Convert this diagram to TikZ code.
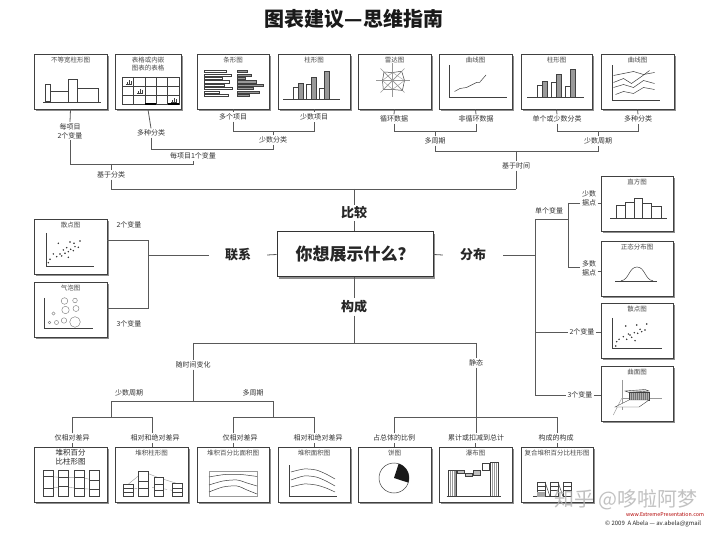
\documentclass[tikz,border=0pt]{standalone}
\usepackage{fontspec}
\setmainfont{Noto Sans CJK SC}
\usetikzlibrary{shadows}
\newcommand\mkbox[5]{%
  \node[chartbox, minimum width=#4pt] (#1) at (#2,#3) {};
  \node[ctitle] (#1t) at (#1.north) {#5};}
\begin{document}
\begin{tikzpicture}[x=1pt,y=-1pt,
  chartbox/.style={draw=black!75, line width=0.9pt, fill=white, minimum height=55pt, inner sep=0pt,
     drop shadow={shadow xshift=1.6pt, shadow yshift=-1.6pt, fill=black!55, opacity=0.8}},
  ctitle/.style={below, font=\fontsize{6.5}{8.5}\selectfont, text=black!70, inner xsep=2pt, inner ysep=3pt, align=center},
  lab/.style={font=\fontsize{7}{9}\selectfont, text=black!80, inner sep=1.2pt, align=center},
  con/.style={draw=black!65, line width=0.8pt},
  mini/.style={draw=black!75, line width=0.5pt},
  faint/.style={draw=black!40, line width=0.4pt},
  big/.style={font=\bfseries\fontsize{13}{15}\selectfont, text=black!85, inner sep=2pt},
  sdot/.style={fill=black!85},
]
\useasboundingbox (0,0) rectangle (720,534);
\fill[white] (0,0) rectangle (720,534);

% title
\node[font=\bfseries\fontsize{20}{22}\selectfont, text=black!90] (title) at (354,19) {图表建议—思维指南};

% ---------------- top row boxes
\mkbox{t1}{70.5}{81.5}{73}{不等宽柱形图}
\mkbox{t2}{148}{81.5}{66}{表格或内嵌\\图表的表格}
\mkbox{t3}{233}{81.5}{72}{条形图}
\mkbox{t4}{314}{81.5}{72}{柱形图}
\mkbox{t5}{394.5}{81.5}{73}{雷达图}
\mkbox{t6}{475.5}{81.5}{73}{曲线图}
\mkbox{t7}{556.5}{81.5}{71}{柱形图}
\mkbox{t8}{637.5}{81.5}{73}{曲线图}

% t1 variable width column
\begin{scope}[shift={(t1.center)}]
  \draw[mini] (-27.5,20.5) -- (30.5,20.5);
  \draw[mini, line width=1pt] (-25.5,20.5) rectangle (-20.5,3.5);
  \draw[mini] (-20.5,20.5) rectangle (-2.5,9.5);
  \draw[mini] (-2.5,20.5) rectangle (6.5,-2.5);
  \draw[mini] (6.5,20.5) rectangle (27.5,6.5);
\end{scope}
% t2 table
\begin{scope}[shift={(t2.center)}]
  \draw[mini] (-26,-4.5) rectangle (31,22.5);
  \foreach \i in {1,...,4} \draw[mini] (-26+11.4*\i,-4.5) -- (-26+11.4*\i,22.5);
  \draw[mini] (-26,4.5) -- (31,4.5);
  \draw[mini] (-26,13.5) -- (31,13.5);
  \draw[black, line width=1.2pt] (-3.2,22.5) -- (8.2,22.5);
  \draw[black, line width=1.2pt] (19.6,22.5) -- (31,22.5);
  \foreach \cx/\cy in {-22/2.5, -11/11.5, 23/20.5} {
    \draw[mini, line width=0.4pt] (\cx,\cy) -- (\cx+6,\cy);
    \draw[mini, line width=0.4pt] (\cx+1,\cy) -- (\cx+1,\cy-1.5);
    \draw[mini, line width=0.4pt] (\cx+3,\cy) -- (\cx+3,\cy-3.5);
    \draw[mini, line width=0.4pt] (\cx+5,\cy) -- (\cx+5,\cy-2.5);
  }
\end{scope}
% t3 bar chart
\begin{scope}[shift={(t3.center)}]
  \foreach \l [count=\i] in {22,27,18,25,20,28,15,24}
    \draw[mini, fill=white] (-29,-14.5+3.4*\i) rectangle ++(\l,2.2);
  \foreach \l [count=\i] in {10,14,8,19,26,16,22,12}
    \draw[mini, fill=black!40] (4,-14.5+3.4*\i) rectangle ++(\l,2.2);
\end{scope}
% t4 column chart
\begin{scope}[shift={(t4.center)}]
  \draw[mini] (-31,17.5) -- (26,17.5);
  \draw[mini, fill=white] (-21,17.5) rectangle (-16,5.5);
  \draw[mini, fill=black!40] (-16,17.5) rectangle (-11,1.5);
  \draw[mini, fill=white] (-8,17.5) rectangle (-3,2.5);
  \draw[mini, fill=black!40] (-3,17.5) rectangle (2,-4.5);
  \draw[mini, fill=white] (5,17.5) rectangle (10,6.5);
  \draw[mini, fill=black!40] (10,17.5) rectangle (15,-10.5);
\end{scope}
% t5 radar
\begin{scope}[shift={(t5.center)}, shift={(-2,-1)}]
  \foreach \a in {0,45,...,315} \draw[faint] (0,0) -- (\a:17);
  \draw[mini] (0:12) -- (45:14) -- (90:9) -- (135:13) -- (180:10) -- (225:12) -- (270:8) -- (315:13) -- cycle;
  \draw[faint] (45:14) -- (225:12);
  \draw[faint] (135:13) -- (315:13);
  \draw[faint] (0:12) -- (90:9) -- (180:10) -- (270:8) -- cycle;
\end{scope}
% t6 line chart
\begin{scope}[shift={(t6.center)}]
  \draw[mini] (-26.5,-16.5) -- (-26.5,15.5) -- (31.5,15.5);
  \draw[mini] (-21,10) -- (-15.5,7) -- (-9,6) -- (-3,3) -- (1,1) -- (4,1) -- (10.5,-6.5);
\end{scope}
% t7 column chart
\begin{scope}[shift={(t7.center)}]
  \draw[mini] (-29.5,15.5) -- (27.5,15.5);
  \draw[mini, fill=white] (-19,15.5) rectangle (-14,3.5);
  \draw[mini, fill=black!40] (-14,15.5) rectangle (-9,-0.5);
  \draw[mini, fill=white] (-5,15.5) rectangle (0,1.2);
  \draw[mini, fill=black!40] (0,15.5) rectangle (5,-7.5);
  \draw[mini, fill=white] (9,15.5) rectangle (14,5.2);
  \draw[mini, fill=black!40] (14,15.5) rectangle (19,-12.5);
\end{scope}
% t8 multiple lines
\begin{scope}[shift={(t8.center)}]
  \draw[mini] (-25.5,-16) -- (-25.5,18.5) -- (22.5,18.5);
  \draw[mini] (-24,-6) -- (-14,-8) -- (-4,-10) -- (6,-7) -- (17,-9);
  \draw[mini] (-24,1) -- (-14,-3) -- (-6,2) -- (4,-5) -- (12,-11);
  \draw[mini] (-24,6) -- (-14,3) -- (-4,6) -- (6,-1) -- (17,2);
  \draw[mini] (-22,13) -- (-14,10) -- (-4,12) -- (6,6) -- (17,8);
\end{scope}

% ---------------- top labels
\node[lab] (l1) at (70,131) {每项目\\2个变量};
\node[lab] (l2) at (151,133) {多种分类};
\node[lab] (l3) at (233,117) {多个项目};
\node[lab] (l4) at (314,117) {少数项目};
\node[lab] (l34) at (273,140) {少数分类};
\node[lab] (l234) at (193,156) {每项目1个变量};
\node[lab] (lcat) at (111,175) {基于分类};
\node[lab] (l5) at (394,119) {循环数据};
\node[lab] (l6) at (476,119) {非循环数据};
\node[lab] (l56) at (435,141) {多周期};
\node[lab] (l7) at (557,119) {单个或少数分类};
\node[lab] (l8) at (638,119) {多种分类};
\node[lab] (l78) at (598,141) {少数周期};
\node[lab] (ltime) at (516,166) {基于时间};

\coordinate (j3) at (233,131); \coordinate (j4) at (314,131);
\coordinate (j2) at (151,149); \coordinate (j34) at (273,149);
\coordinate (j1) at (70,164); \coordinate (j234) at (193,164);
\coordinate (jc) at (111,164); \coordinate (jcb) at (111,189);
\coordinate (j5) at (394,131); \coordinate (j6) at (476,131);
\coordinate (j56) at (435,151); \coordinate (j78) at (598,151);
\coordinate (j7) at (557,131); \coordinate (j8) at (638,131);
\coordinate (jt) at (516,151); \coordinate (jtb) at (516,189);

\draw[con] (t1.south) -- (l1.north);
\draw[con] (l1.south) -- (j1) -- (j234) -- (l234.south);
\draw[con] (t2.south) -- (l2.north);
\draw[con] (l2.south) -- (j2) -- (j34) -- (l34.south);
\draw[con] (t3.south) -- (l3.north);
\draw[con] (t4.south) -- (l4.north);
\draw[con] (l3.south) -- (j3) -- (j4) -- (l4.south);
\draw[con] (l34.north) -- (l34.north |- j3);
\draw[con] (jc) -- (lcat.north);
\draw[con] (lcat.south) -- (jcb);
\draw[con] (t5.south) -- (l5.north);
\draw[con] (t6.south) -- (l6.north);
\draw[con] (l5.south) -- (j5) -- (j6) -- (l6.south);
\draw[con] (l56.north) -- (l56.north |- j5);
\draw[con] (t7.south) -- (l7.north);
\draw[con] (t8.south) -- (l8.north);
\draw[con] (l7.south) -- (j7) -- (j8) -- (l8.south);
\draw[con] (l78.north) -- (l78.north |- j7);
\draw[con] (l56.south) -- (j56) -- (j78) -- (l78.south);
\draw[con] (jt) -- (ltime.north);
\draw[con] (ltime.south) -- (jtb);

% ---------------- centre
\node[draw=black!80, line width=1pt, fill=white, minimum width=156pt, minimum height=45pt,
  drop shadow={shadow xshift=1.6pt, shadow yshift=-1.6pt, fill=black!55, opacity=0.8},
  font=\bfseries\fontsize{17}{19}\selectfont, text=black!85] (main) at (355,254.5) {你想展示什么？};
\node[big] (cmp) at (354,213) {比较};
\node[big] (comp) at (354,307) {构成};
\node[big, inner xsep=16pt] (rel) at (238,255) {联系};
\node[big, inner xsep=17pt] (dist) at (473,255) {分布};

\draw[con] (jcb) -- (jtb);
\draw[con] (cmp.north |- jcb) -- (cmp.north);
\draw[con] (cmp.south) -- (cmp.south |- main.north);
\draw[con] (main.west) -- (rel.east);
\draw[con] (main.east) -- (dist.west);
\draw[con] (comp.north |- main.south) -- (comp.north);

% ---------------- left (relationship)
\mkbox{sc}{70.5}{246.5}{73}{散点图}
\mkbox{bub}{70.5}{309.5}{73}{气泡图}
\coordinate (jr) at (148,255);
\coordinate (jr1) at (148,240);
\coordinate (jr2) at (148,308);
\draw[con] (rel.west) -- (jr);
\draw[con] (sc.east |- jr1) -- (jr1) -- (jr2) -- (bub.east |- jr2);
\node[lab] (l2var) at (129,225) {2个变量};
\node[lab] (l3var) at (129,324) {3个变量};

\begin{scope}[shift={(sc.center)}]
  \draw[mini] (-24.5,-13.5) -- (-24.5,19.5) -- (23.5,19.5);
  \foreach \px/\py in {-12.2/-3.2, -0.5/-4.5, 3.5/-3.2, 9.5/-5.5, -3.8/1.2, 0.2/2.8, -7.2/3.5, -2.2/5.2,
     4.5/0.2, 7.8/0.8, -17.2/7.5, -13.8/10.2, -8.8/9.5, -5.5/6.8, -20.5/12.8, -22.2/16.2, -2.2/10.8, 2.8/4.2, -10.5/7.5}
    \fill[sdot] (\px,\py) circle (0.8);
\end{scope}
\begin{scope}[shift={(bub.center)}]
  \draw[mini] (-26,-11.5) -- (-26,18.5) -- (22.5,18.5);
  \foreach \px/\py/\r in {-6/-8.5/3.3, 4.5/-9/2.3, -5/0.5/3.7, 5.5/-1/3, -17/4/1.7, -21/13/1.3, -14/13/2, -6.5/11/2.7, 4.5/12.5/5.3}
    \draw[faint, draw=black!55] (\px,\py) circle (\r);
\end{scope}

% ---------------- right (distribution)
\mkbox{hist}{637}{203.5}{72}{直方图}
\mkbox{norm}{637}{268.5}{72}{正态分布图}
\mkbox{sc2}{637}{330.5}{72}{散点图}
\mkbox{surf}{637}{394}{72}{曲面图}

\coordinate (jd) at (535,255);
\coordinate (jd1) at (535,219);
\coordinate (jd2) at (535,332);
\coordinate (jd3) at (535,395);
\coordinate (js) at (568,219);
\coordinate (jfew) at (568,203);
\coordinate (jmany) at (568,267);
\draw[con] (dist.east) -- (jd);
\draw[con] (jd1) -- (jd3);
\draw[con] (jd1) -- (js);
\draw[con] (jfew) -- (jmany);
\node[lab] (lsv) at (549,211) {单个变量};
\node[lab, inner xsep=1.5pt] (lfew) at (589,198) {少数\\据点};
\node[lab, inner xsep=1.5pt] (lmany) at (589,268) {多数\\据点};
\node[lab] (lv2) at (582,332) {2个变量};
\node[lab] (lv3) at (580,395) {3个变量};
\draw[con] (jfew) -- (jfew -| lfew.west);
\draw[con] (jfew -| lfew.east) -- (jfew -| hist.west);
\draw[con] (jmany) -- (jmany -| lmany.west);
\draw[con] ([yshift=-4pt]jmany -| lmany.east) -- ([yshift=-4pt]jmany -| norm.west);
\draw[con] (jd2) -- (jd2 -| lv2.west);
\draw[con] (jd2 -| lv2.east) -- (jd2 -| sc2.west);
\draw[con] (jd3) -- (jd3 -| lv3.west);
\draw[con] (jd3 -| lv3.east) -- (jd3 -| surf.west);

\begin{scope}[shift={(hist.center)}]
  \draw[mini] (-27,14.8) -- (30,14.8);
  \draw[mini] (-20.3,14.8) rectangle (-11.3,1.8);
  \draw[mini] (-11.3,14.8) rectangle (-2.7,-0.8);
  \draw[mini, line width=0.9pt] (-2.7,14.8) rectangle (5.7,-4.8);
  \draw[mini] (5.7,14.8) rectangle (14.7,0.2);
  \draw[mini] (14.7,14.8) rectangle (24,2.5);
\end{scope}
\begin{scope}[shift={(norm.center)}]
  \draw[mini] (-22,12.5) -- (20,12.5);
  \draw[mini] (-16,12.3) .. controls (-8,11.5) and (-8,-1.5) .. (0,-1.5) .. controls (8,-1.5) and (8,11.5) .. (16,12.3);
\end{scope}
\begin{scope}[shift={(sc2.center)}]
  \draw[mini] (-24.7,-12.5) -- (-24.7,17.8) -- (24.7,17.8);
  \foreach \px/\py in {-11.3/-4.5, -0.3/-5.5, 9.7/-6.5, 3/-1.2, -2.7/2.2, -7/4.5, 0.7/2.8, 4.7/1.2, -5.3/6.8,
     -13.7/6.2, -18/8.8, -10.3/8.8, -2/10.2, -20.3/11.2, -21.3/15.5, 8/-0.5, -8.7/3.5}
    \fill[sdot] (\px,\py) circle (0.8);
\end{scope}
\begin{scope}[shift={(surf.center)}]
  \draw[faint] (-15.3,-14) -- (-15.3,16);
  \draw[faint] (-15.3,4.3) -- (24.7,4.3);
  \draw[faint] (-15.3,4.3) -- (-23.7,21);
  \fill[black!12] (-12,-3) -- (8,-4.5) -- (12,-3) -- (-8,-1.5) -- cycle;
  \draw[mini, line width=0.4pt] (-12,-3) -- (8,-4.5) -- (12,-3) -- (-8,-1.5) -- cycle;
  \fill[black!30] (-8,-1.5) rectangle (12,6);
  \foreach \k in {0,1,...,10} \draw[black!55, line width=0.2pt] (-8+2*\k,-1.5) -- (-8+2*\k,6);
  \draw[mini, line width=0.4pt] (-8,-1.5) rectangle (12,6);
  \draw[mini, line width=0.4pt, fill=white] (-8,6) -- (12,6) -- (2,13) -- (-22,13) -- cycle;
\end{scope}

% ---------------- bottom (composition)
\coordinate (jb) at (354,343);
\coordinate (jbl) at (193,343);
\coordinate (jbr) at (476,343);
\draw[con] (comp.south) -- (jb);
\draw[con] (jbl) -- (jbr);
\node[lab] (ltc) at (193,365) {随时间变化};
\node[lab] (lst) at (476,363) {静态};
\node[lab] (lfp) at (129,393) {少数周期};
\node[lab] (lmp) at (253,393) {多周期};
\coordinate (k0) at (193,401);
\coordinate (k1) at (111,401);
\coordinate (k2) at (273,401);
\coordinate (k1b) at (111,417);
\coordinate (k2b) at (273,417);
\draw[con] (jbl) -- (ltc.north);
\draw[con] (ltc.south) -- (k0);
\draw[con] (k1) -- (k2);
\draw[con] (k1) -- (k1b);
\draw[con] (k2) -- (k2b);
\draw[con] (jbr) -- (lst.north);
\coordinate (k3b) at (476,417);
\draw[con] (lst.south) -- (k3b);

\node[chartbox, minimum width=73pt] (b1) at (70.5,475) {};
\node[ctitle, font=\fontsize{7.5}{9}\selectfont, text=black!85, inner ysep=2pt] (b1t) at (b1.north) {堆积百分\\比柱形图};
\mkbox{b2}{151.5}{475}{73}{堆积柱形图}
\mkbox{b3}{233}{475}{72}{堆积百分比面积图}
\mkbox{b4}{314}{475}{72}{堆积面积图}
\mkbox{b5}{394.5}{475}{73}{饼图}
\mkbox{b6}{475.5}{475}{73}{瀑布图}
\mkbox{b7}{557}{475}{72}{复合堆积百分比柱形图}

\node[lab] (lb1) at (72,438) {仅相对差异};
\node[lab] (lb2) at (155,438) {相对和绝对差异};
\node[lab] (lb3) at (240,438) {仅相对差异};
\node[lab] (lb4) at (318,438) {相对和绝对差异};
\node[lab] (lb5) at (394,438) {占总体的比例};
\node[lab] (lb6) at (476,438) {累计或扣减到总计};
\node[lab] (lb7) at (556,438) {构成的构成};

\draw[con] (b1.north -| 72,0) -- (lb1.south -| 72,0);
\draw[con] (b2.north -| 152,0) -- (lb2.south -| 152,0);
\draw[con] (b3.north) -- (lb3.south -| b3.north);
\draw[con] (b4.north) -- (lb4.south -| b4.north);
\draw[con] (b5.north) -- (lb5.south -| b5.north);
\draw[con] (b6.north) -- (lb6.south -| b6.north);
\draw[con] (b7.north) -- (lb7.south -| b7.north);
\draw[con] (lb1.north -| 72,0) -- (72,417) -- (152,417) -- (lb2.north -| 152,0);
\draw[con] (lb3.north -| b3.north) -- (233,417) -- (314,417) -- (lb4.north -| b4.north);
\draw[con] (lb5.north -| b5.north) -- (394.5,417) -- (557,417) -- (lb7.north -| b7.north);
\draw[con] (k3b) -- (lb6.north -| k3b);

% b1 stacked percent columns
\begin{scope}[shift={(b1.center)}]
  \draw[faint] (-22.5,1.7) -- (-7.5,2.3) -- (8.5,2.3) -- (23.5,5);
  \draw[faint] (-22.5,13.3) -- (-7.5,11.7) -- (8.5,13.5) -- (23.5,14.3);
  \foreach \xa/\da/\db in {-27.5/1.7/13.3, -12.5/2.3/11.7, 3.5/2.3/13.5, 18.5/5/14.3} {
    \draw[mini, fill=white] (\xa,-5) rectangle (\xa+10,21);
    \draw[mini] (\xa,\da) -- (\xa+10,\da);
    \draw[mini] (\xa,\db) -- (\xa+10,\db);
  }
\end{scope}
% b2 stacked columns
\begin{scope}[shift={(b2.center)}]
  \draw[faint] (-23,9) -- (-8,-3.3) -- (7,2.7) -- (25,8.3);
  \draw[faint, dashed] (-23,15) -- (-8,12) -- (7,13) -- (25,16);
  \foreach \xa/\top/\da/\db in {-28/9/13/17, -13/-3.3/6/13, 2.5/2.7/9/15, 21/8.3/13/17} {
    \draw[mini, fill=white] (\xa,\top) rectangle (\xa+9.5,21.7);
    \draw[mini] (\xa,\da) -- (\xa+9.5,\da);
    \draw[mini] (\xa,\db) -- (\xa+9.5,\db);
  }
\end{scope}
% b3 stacked percent area
\begin{scope}[shift={(b3.center)}]
  \draw[faint] (-24,-4) rectangle (24,21);
  \draw[mini] plot[smooth] coordinates {(-24,2) (-8,-0.5) (8,-0.5) (24,1.5)};
  \draw[mini] plot[smooth] coordinates {(-24,10) (-10,6) (4,5) (14,8) (24,11)};
  \draw[mini] plot[smooth] coordinates {(-24,17) (-10,12) (4,11) (14,15) (24,19)};
\end{scope}
% b4 stacked area
\begin{scope}[shift={(b4.center)}]
  \draw[mini] (-25,-10) -- (-25,21) -- (23,21);
  \draw[mini] plot[smooth] coordinates {(-23,-3) (-10,-6) (2,-5) (12,-1) (21,4)};
  \draw[mini] plot[smooth] coordinates {(-23,5) (-10,1) (2,2) (12,6) (21,11)};
  \draw[mini] plot[smooth] coordinates {(-23,12) (-10,9) (2,10) (12,13) (21,17)};
\end{scope}
% b5 pie (wedge in the upper right, from -18 to 72 degrees on the page)
\begin{scope}[shift={(b5.center)}]
  \draw[mini] (-0.5,3) circle (15);
  \fill[black!90] (-0.5,3) -- plot[domain=-18:72, samples=24] ({-0.5+15*cos(\x)},{3-15*sin(\x)}) -- cycle;
\end{scope}
% b6 waterfall
\begin{scope}[shift={(b6.center)}]
  \draw[mini] (-29,21) -- (25,21);
  \draw[mini, fill=white] (-27.2,21) rectangle (-18.8,-4.3);
  \foreach \k in {-25.5,-23.5,-21.5,-20} \draw[faint] (\k,-4.3) -- (\k,21);
  \draw[mini, fill=black!25] (-18.2,-4.3) rectangle (-11.5,-1.7);
  \draw[mini, fill=black!25] (-10.2,-1.7) rectangle (-3.5,1.7);
  \draw[mini, fill=black!25] (-2.2,-4.3) rectangle (5.2,0.7);
  \draw[mini, fill=white] (7.2,-11.7) rectangle (13.8,-4.3);
  \draw[mini, fill=white] (14.5,21) rectangle (22.8,-12.3);
  \foreach \k in {16.5,18.5,20.5} \draw[faint] (\k,-12.3) -- (\k,21);
\end{scope}
% b7 composite
\begin{scope}[shift={(b7.center)}]
  \draw[mini] (-24,21.5) -- (-6,21.5);
  \foreach \xa/\top in {-20/7, -7/7, 6/7} {
    \draw[mini, fill=white] (\xa,\top) rectangle (\xa+8,21.5);
    \draw[mini] (\xa,11) -- (\xa+8,11);
    \draw[mini] (\xa,15) -- (\xa+8,15);
  }
  \fill[black!35] (-20,17) rectangle (-12,21.5);
  \draw[mini] (-12,7) -- (-7,21.5);
  \draw[mini] (1,7) -- (6,21.5);
\end{scope}

% ---------------- watermark & credits
\node[font=\fontsize{20}{22}\selectfont, text=black!30, opacity=0.8, inner sep=0pt] (wm) at (626,500) {知乎 @哆啦阿梦};
\node[font=\fontsize{5.3}{6}\selectfont, text=red!70!black, inner sep=0pt] (url) at (665,514.5) {www.ExtremePresentation.com};
\node[font=\fontsize{6}{7}\selectfont, text=black!85, anchor=west, inner sep=0pt] (cr) at (605,524) {© 2009 \ A Abela — av.abela@gmail};
\end{tikzpicture}
\end{document}
